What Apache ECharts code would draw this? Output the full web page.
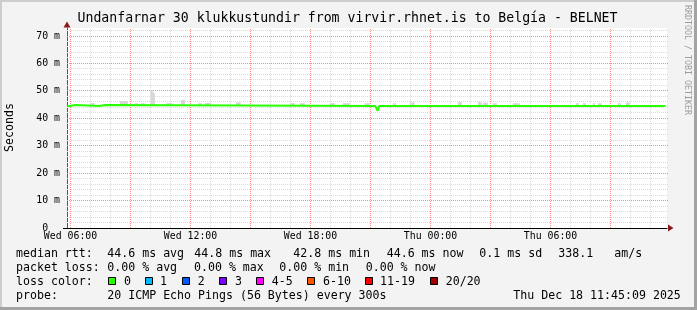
<!DOCTYPE html>
<html><head><meta charset="utf-8">
<script src="https://cdn.jsdelivr.net/npm/echarts@6/dist/echarts.min.js"></script>
<style>html,body{margin:0;padding:0;background:#f3f3f3}#c{width:697px;height:310px}</style>
</head><body><div id="c"></div><script>
// ---- data (time in minutes since Wed 00:00, values in ms) ----
const xStart = 349.5, xEnd = 2149.5;
const xLabelTimes = [360, 720, 1080, 1440, 1800];
const xLabelTexts = ['Wed 06:00', 'Wed 12:00', 'Wed 18:00', 'Thu 00:00', 'Thu 06:00'];
const xMajorGrid = [360, 540, 720, 900, 1080, 1260, 1440, 1620, 1800, 1980];
const xMinorGrid = [420, 480, 600, 660, 780, 840, 960, 1020, 1140, 1200, 1320, 1380, 1500, 1560, 1680, 1740, 1860, 1920, 2040, 2100];
const yMax = 72.917;
const yMajorGrid = [10, 20, 30, 40, 50, 60, 70];
const yMinorGrid = [2, 4, 6, 8, 12, 14, 16, 18, 22, 24, 26, 28, 32, 34, 36, 38, 42, 44, 46, 48, 52, 54, 56, 58, 62, 64, 66, 68, 72];
const medianTimes  = [350, 357, 358, 374, 375, 447, 448, 464, 465, 1274, 1278, 1282, 1286, 2145];
const medianValues = [44.5, 44.5, 44.85, 44.85, 44.5, 44.5, 44.85, 44.85, 44.5, 44.5, 43.6, 42.8, 44.5, 44.5];
const smokeStart = [418, 508, 553, 571, 600, 607, 646, 691, 742, 763, 856, 1018, 1048, 1138, 1177, 1243, 1327, 1378, 1522, 1582, 1597, 1627, 1687, 1876, 1897, 1927, 1942, 2002, 2026];
const smokeEnd   = [433, 532, 562, 583, 607, 613, 667, 703, 754, 781, 871, 1033, 1063, 1153, 1198, 1258, 1336, 1393, 1534, 1594, 1612, 1639, 1708, 1885, 1906, 1933, 1954, 2011, 2038];
const smokeTop   = [45.5, 46.3, 45.5, 45.5, 50.3, 49.3, 45.5, 46.7, 45.5, 45.6, 45.8, 45.5, 45.5, 45.5, 45.5, 45.5, 45.5, 45.8, 45.9, 45.9, 45.7, 45.5, 45.5, 45.5, 45.5, 45.5, 45.5, 45.5, 45.8];
const smokeBase = 44.5;
const lossLabels = ['0', '1', '2', '3', '4-5', '6-10', '11-19', '20/20'];
const lossColors = ['#26ff00', '#00b8ff', '#0059ff', '#7e00ff', '#ff00ff', '#ff5500', '#ff0000', '#a10000'];

// ---- chart ----
const MONO = "'DejaVu Sans Mono', monospace";
const chart = echarts.init(document.getElementById('c'), null, {renderer: 'canvas'});
const medianData = medianTimes.map((t, i) => [t, medianValues[i]]);
const smokeData = smokeStart.map((s, i) => [s, smokeEnd[i], smokeTop[i], smokeBase]);

chart.setOption({
  animation: false,
  backgroundColor: '#f3f3f3',
  grid: {left: 67, top: 28, width: 600, height: 200, show: true, backgroundColor: '#ffffff', borderWidth: 0, containLabel: false, outerBoundsMode: 'none'},
  xAxis: {
    type: 'value', min: xStart, max: xEnd,
    axisLine: {show: true, onZero: false, lineStyle: {color: '#000', width: 1}},
    axisTick: {show: false},
    splitLine: {show: false},
    axisLabel: {
      show: true, customValues: xLabelTimes, margin: 3,
      fontFamily: MONO, fontSize: 9.9, color: '#000',
      formatter: v => { const i = xLabelTimes.indexOf(v); return i >= 0 ? xLabelTexts[i] : ''; }
    }
  },
  yAxis: {
    type: 'value', min: 0, max: yMax, interval: 10,
    axisLine: {show: true, onZero: false, lineStyle: {color: '#555', width: 1}},
    axisTick: {show: false},
    splitLine: {show: false},
    axisLabel: {
      margin: 7, fontFamily: MONO, fontSize: 9.9, color: '#000',
      formatter: v => (Math.abs(v % 10) < 1e-6) ? (v === 0 ? '0  ' : v + ' m') : ''
    }
  },
  series: [
    {type: 'custom', name: 'smoke', z: 2, silent: true, data: smokeData, encode: {x: [0, 1], y: [2, 3]},
      renderItem: (params, api) => {
        const p0 = api.coord([api.value(0), api.value(3)]);
        const p1 = api.coord([api.value(1), api.value(2)]);
        return {type: 'rect', shape: {x: p0[0], y: p1[1], width: p1[0] - p0[0], height: p0[1] - p1[1]}, style: {fill: '#d6d6d6'}};
      }},
    {type: 'line', name: 'median', z: 3, data: medianData, symbol: 'none', silent: true,
      lineStyle: {color: lossColors[0], width: 2}}
  ]
});

// ---- grid lines & decorations (positions through the chart's own scales) ----
const g = [];
function px(x, y) { return chart.convertToPixel({gridIndex: 0}, [x, y]); }
function vLine(t, color) {
  const a = px(t, 0), b = px(t, yMax), x = Math.floor(a[0]) + 0.5;
  g.push({type: 'line', z: 1, silent: true, shape: {x1: x, y1: a[1], x2: x, y2: b[1]}, style: {stroke: color, lineWidth: 1, lineDash: [1, 1]}});
}
function hLine(v, color) {
  const a = px(xStart, v), b = px(xEnd, v), y = Math.floor(a[1]) + 0.5;
  g.push({type: 'line', z: 1, silent: true, shape: {x1: a[0], y1: y, x2: b[0] + 1, y2: y}, style: {stroke: color, lineWidth: 1, lineDash: [1, 1]}});
}
xMinorGrid.forEach(t => vLine(t, '#dadada'));
yMinorGrid.forEach(v => hLine(v, '#dadada'));
xMajorGrid.forEach(t => vLine(t, '#ff8888'));
yMajorGrid.forEach(v => hLine(v, '#ff8888'));

function txt(x, y, s, opt) {
  opt = opt || {};
  return {type: 'text', x: x, y: y, rotation: opt.rot || 0, z: 100, silent: true,
    style: {text: s, font: (opt.size || 11.6) + 'px ' + MONO, fill: opt.fill || '#000',
      align: opt.align || 'left', textAlign: opt.align || 'left',
      verticalAlign: 'middle', textVerticalAlign: 'middle'}};
}
// frame shading
g.push({type: 'rect', shape: {x: 0, y: 0, width: 697, height: 2}, style: {fill: '#cdcdcd'}, z: 90});
g.push({type: 'rect', shape: {x: 0, y: 0, width: 2, height: 310}, style: {fill: '#cdcdcd'}, z: 90});
g.push({type: 'rect', shape: {x: 0, y: 307, width: 697, height: 3}, style: {fill: '#a3a3a3'}, z: 91});
g.push({type: 'rect', shape: {x: 694, y: 0, width: 3, height: 310}, style: {fill: '#a3a3a3'}, z: 91});
// axis extensions and arrows
g.push({type: 'line', z: 95, shape: {x1: 63, y1: 228.5, x2: 67, y2: 228.5}, style: {stroke: '#000', lineWidth: 1}});
g.push({type: 'polygon', shape: {points: [[668, 224.5], [673.5, 228], [668, 231.5]]}, style: {fill: '#8b1a1a'}, z: 95});
g.push({type: 'polygon', shape: {points: [[63.5, 27.5], [67, 21.5], [70.5, 27.5]]}, style: {fill: '#8b1a1a'}, z: 95});
// title & side texts
g.push(txt(347.5, 19, 'Undanfarnar 30 klukkustundir from virvir.rhnet.is to Belgía - BELNET', {size: 13.2, align: 'center'}));
g.push(txt(10, 127.5, 'Seconds', {rot: Math.PI / 2, align: 'center'}));
g.push(txt(687.5, 60, 'RRDTOOL / TOBI OETIKER', {rot: -Math.PI / 2, align: 'center', size: 8.3, fill: '#9c9c9c'}));
// legend lines
const L1 = 254, L2 = 268.3, L3 = 281.7, L4 = 296;
g.push(txt(16, L1, 'median rtt:'));
g.push(txt(107.3, L1, '44.6 ms avg'));
g.push(txt(194.3, L1, '44.8 ms max'));
g.push(txt(293.3, L1, '42.8 ms min'));
g.push(txt(386.7, L1, '44.6 ms now'));
g.push(txt(479.3, L1, '0.1 ms sd'));
g.push(txt(558.3, L1, '338.1'));
g.push(txt(614.3, L1, 'am/s'));
g.push(txt(16, L2, 'packet loss:'));
g.push(txt(107.3, L2, '0.00 % avg'));
g.push(txt(194, L2, '0.00 % max'));
g.push(txt(279.3, L2, '0.00 % min'));
g.push(txt(365.7, L2, '0.00 % now'));
g.push(txt(16, L3, 'loss color:'));
const boxX = [108.5, 145.5, 182.5, 219.5, 256.5, 307.5, 365.5, 430.5];
const lblX = [124, 160, 197.7, 235, 271.7, 323, 380, 445.7];
lossLabels.forEach((l, i) => {
  g.push({type: 'rect', shape: {x: boxX[i], y: 277.5, width: 7, height: 7}, style: {fill: lossColors[i], stroke: '#000', lineWidth: 1}, z: 100});
  g.push(txt(lblX[i], L3, l));
});
g.push(txt(16, L4, 'probe:'));
g.push(txt(107.3, L4, '20 ICMP Echo Pings (56 Bytes) every 300s'));
g.push(txt(513.3, L4, 'Thu Dec 18 11:45:09 2025'));

chart.setOption({graphic: g});
</script></body></html>
